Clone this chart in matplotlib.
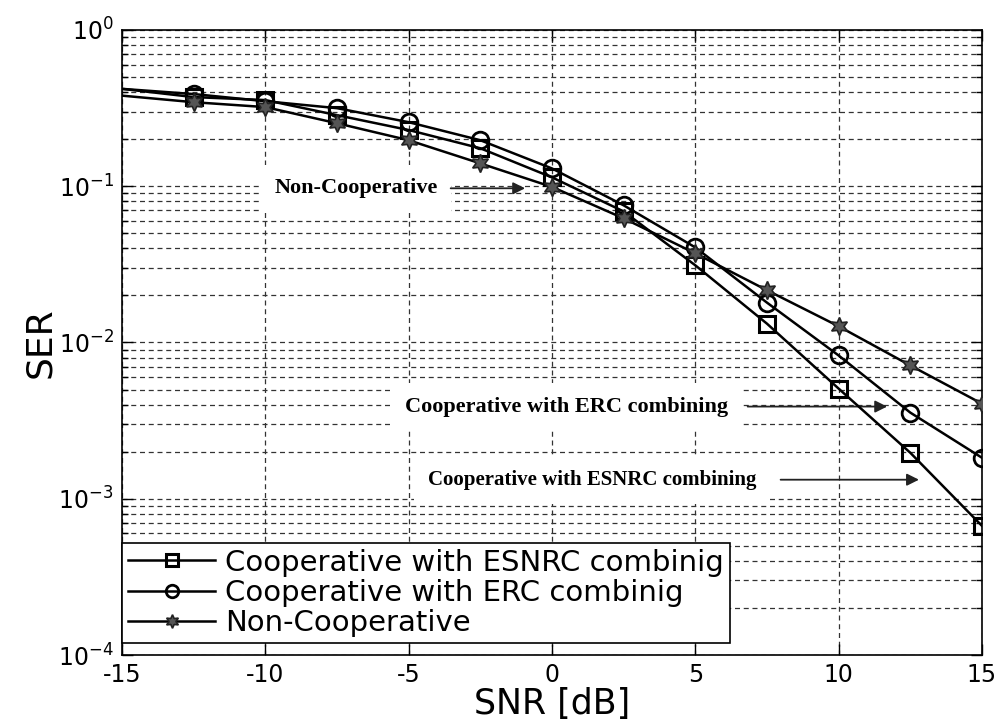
import numpy as np
import matplotlib
matplotlib.use("Agg")
import matplotlib.pyplot as plt
from matplotlib.ticker import LogLocator, NullFormatter

plt.rcParams['font.family'] = ['DejaVu Sans']
plt.rcParams['mathtext.default'] = 'regular'

snr = [-15, -12.5, -10, -7.5, -5, -2.5, 0, 2.5, 5, 7.5, 10, 12.5, 15]
ser_esnrc = [0.42, 0.372, 0.356, 0.285, 0.229, 0.175, 0.114, 0.069, 0.0312, 0.0132, 0.00507, 0.00197, 0.000671]
ser_erc = [0.42, 0.389, 0.35, 0.316, 0.257, 0.197, 0.130, 0.0755, 0.0406, 0.0180, 0.00826, 0.00356, 0.00183]
ser_noncoop = [0.38, 0.345, 0.321, 0.253, 0.197, 0.140, 0.099, 0.0623, 0.0372, 0.0216, 0.0127, 0.00713, 0.00406]

labels = ["Cooperative with ESNRC combinig", "Cooperative with ERC combinig", "Non-Cooperative"]
x_ticks = [-15, -10, -5, 0, 5, 10, 15]

fig = plt.figure(figsize=(9.98, 7.24), dpi=100)
ax = fig.add_axes([0.1222, 0.0953, 0.8617, 0.8633])

lw = 1.8
ax.semilogy(snr, ser_esnrc, color='black', lw=lw, marker='s', ms=12, mfc='none', mec='black', mew=2.2,
            markevery=slice(1, None), label=labels[0], zorder=5)
ax.semilogy(snr, ser_erc, color='black', lw=lw, marker='o', ms=12, mfc='none', mec='black', mew=2.0,
            markevery=slice(1, None), label=labels[1], zorder=5)
ax.semilogy(snr, ser_noncoop, color='black', lw=lw, marker=(6, 1, 0), ms=13, mfc='#555555', mec='#222222', mew=1.2,
            markevery=slice(1, None), label=labels[2], zorder=5)

ax.set_xlim(-15, 15)
ax.set_ylim(1e-4, 1)
ax.set_xticks(x_ticks)
ax.set_xticklabels([str(t) for t in x_ticks])
ax.yaxis.set_major_locator(LogLocator(base=10, numticks=10))
ax.yaxis.set_minor_locator(LogLocator(base=10, subs=np.arange(2, 10), numticks=50))
ax.yaxis.set_minor_formatter(NullFormatter())

gridkw = dict(color='#333333', linestyle=(0, (4, 3)), linewidth=0.9)
ax.grid(True, which='major', axis='both', **gridkw)
ax.grid(True, which='minor', axis='y', **gridkw)
ax.set_axisbelow(True)

ax.tick_params(which='both', direction='in', top=True, right=True, labelsize=17, width=1)
ax.tick_params(which='major', length=8)
ax.tick_params(axis='x', which='major', pad=6)
ax.tick_params(axis='y', which='major', pad=6)
ax.tick_params(which='minor', length=4)
for s in ax.spines.values():
    s.set_linewidth(1.2)

ax.set_xlabel("SNR [dB]", fontsize=25, va='center')
ax.xaxis.set_label_coords(0.5, -0.079)
ax.set_ylabel("SER", fontsize=26, va='center')
ax.yaxis.set_label_coords(-0.095, 0.5)

# annotations
serif = 'Liberation Serif'
box = dict(facecolor='white', edgecolor='none', pad=10)
arrowkw = dict(arrowstyle='-|>', color='#222222', lw=1.3, mutation_scale=18)
ax.text(-6.84, 0.097, "Non-Cooperative", ha='center', va='center', bbox=box, zorder=3,
        family=serif, weight='bold', fontsize=16)
ax.annotate("", xy=(-0.84, 0.097), xytext=(-3.63, 0.097), arrowprops=arrowkw, zorder=4)
ax.text(0.52, 0.00389, "Cooperative with ERC combining", ha='center', va='center', bbox=box, zorder=3,
        family=serif, weight='bold', fontsize=16)
ax.annotate("", xy=(11.79, 0.00389), xytext=(6.73, 0.00389), arrowprops=arrowkw, zorder=4)
ax.text(1.39, 0.001324, "Cooperative with ESNRC combining", ha='center', va='center', bbox=box, zorder=3,
        family=serif, weight='bold', fontsize=15)
ax.annotate("", xy=(12.9, 0.001324), xytext=(7.88, 0.001324), arrowprops=arrowkw, zorder=4)

leg = ax.legend(loc='lower left', bbox_to_anchor=(0.0, 0.019), fontsize=21, markerscale=0.75,
                handlelength=3.0, handletextpad=0.35, labelspacing=0.08, borderpad=0.2,
                fancybox=False, framealpha=1, edgecolor='black', borderaxespad=0)
leg.get_frame().set_linewidth(1.2)
leg.set_zorder(10)

fig.savefig("out.png", dpi=100)
